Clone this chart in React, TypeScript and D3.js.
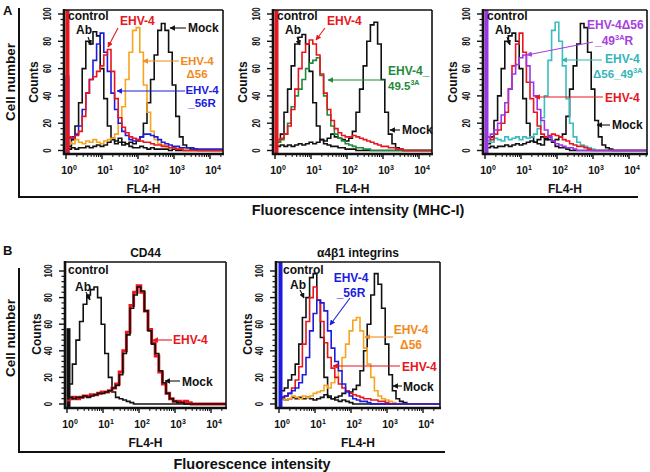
import React from "react";
import * as d3 from "d3";

// log10 bin centres (FL4-H decades)
const BINS = [
  0.0, 0.1, 0.2, 0.3, 0.4, 0.5, 0.6, 0.7, 0.8, 0.9,
  1.0, 1.1, 1.2, 1.3, 1.4, 1.5, 1.6, 1.7, 1.8, 1.9,
  2.0, 2.1, 2.2, 2.3, 2.4, 2.5, 2.6, 2.7, 2.8, 2.9,
  3.0, 3.1, 3.2, 3.3, 3.4, 3.5, 3.6, 3.7, 3.8, 3.9,
  4.0,
];
const X_TICK_EXP = [0, 1, 2, 3, 4];
const Y_TICKS = [0, 20, 40, 60, 80, 100];

// Panel A1 (MHC-I)
const A1_CTRL = [2,3,8,18,35,60,80,78,87,84, 60,38,18,9,5,6,4,5,3,2, 2,3,2,1,2,1,1,1,1,0, 1,0,0,0,0,0,0,0,0,0, 0];
const A1_MOCK = [1,1,2,1,2,2,3,2,3,4, 3,4,6,8,7,9,6,5,6,5, 7,10,20,35,52,70,88,93,88,72, 48,25,10,4,2,1,1,0,0,0, 0];
const A1_D56 = [4,6,5,8,6,5,7,6,8,6, 5,7,8,9,12,20,32,52,72,88, 90,72,48,28,14,8,5,4,3,2, 2,1,1,0,0,0,0,0,0,0, 0];
const A1_56R = [8,9,10,12,18,30,42,52,66,78, 86,72,58,42,30,20,14,11,8,7, 8,10,12,12,11,10,8,6,5,4, 3,3,2,2,2,2,1,1,1,1, 1];
const A1_EHV4 = [10,10,9,11,14,25,42,52,54,58, 62,70,74,58,38,24,17,13,10,9, 8,7,6,6,5,4,4,3,3,2, 2,1,1,0,0,0,0,0,0,0, 0];
const A1_FIRST = { ehv4: 120, r56: 55 };

// Panel A2
const A2_CTRL = [5,6,12,28,45,62,78,83,85,78, 58,35,18,8,5,4,3,3,2,2, 1,1,1,0,0,0,0,0,0,0, 0,0,0,0,0,0,0,0,0,0, 0];
const A2_MOCK = [3,3,4,3,4,3,4,5,4,5, 6,5,6,8,7,9,12,10,9,8, 7,9,14,28,45,62,80,92,94,78, 52,28,12,5,2,1,0,0,0,0, 0];
const A2_495 = [7,6,8,12,20,32,40,45,52,60, 64,66,68,55,40,26,18,12,9,7, 5,4,3,2,2,1,1,0,0,0, 0,0,0,0,0,0,0,0,0,0, 0];
const A2_EHV4 = [10,8,9,12,18,30,45,60,72,78, 81,78,70,56,42,30,22,16,13,11, 10,10,11,10,9,8,7,6,5,4, 3,3,2,2,1,1,0,0,0,0, 0];
const A2_FIRST = { ehv4: 120 };

// Panel A3
const A3_CTRL = [4,5,10,22,40,60,80,84,86,80, 60,38,20,10,6,5,4,8,10,6, 3,2,2,1,0,0,0,0,0,0, 0,0,0,0,0,0,0,0,0,0, 0];
const A3_MOCK = [2,2,3,2,3,3,4,3,4,5, 4,5,6,7,6,8,10,9,8,7, 8,10,12,25,45,62,78,93,90,72, 45,22,10,4,2,1,0,0,0,0, 0];
const A3_D56_49 = [5,7,6,9,8,7,10,8,9,10, 8,10,9,10,12,16,24,40,66,88, 94,80,62,38,20,10,6,4,3,2, 1,0,0,0,0,0,0,0,0,0, 0];
const A3_EHV4 = [8,10,8,12,15,20,28,45,62,78, 86,72,50,38,28,18,12,10,11,12, 11,10,8,7,5,4,3,3,2,1, 0,0,0,0,0,0,0,0,0,0, 0];
const A3_D56_49R = [12,10,12,15,20,26,35,45,56,63, 68,70,62,50,40,30,22,15,10,7, 5,4,3,2,2,1,0,0,0,0, 0,0,0,0,0,0,0,0,0,0, 0];
const A3_FIRST = { rev: 120 };

// Panel B1 (CD44)
const B1_CTRL = [8,15,30,48,62,75,82,86,88,80, 60,38,20,9,5,4,3,2,1,0, 0,0,0,0,0,0,0,0,0,0, 0,0,0,0,0,0,0,0,0,0, 0];
const B1_MOCK = [4,5,4,5,5,6,5,6,7,8, 8,9,10,12,14,22,38,52,72,82, 88,85,70,55,45,38,25,16,8,4, 2,1,1,0,0,0,0,0,0,0, 0];
const B1_EHV4 = [3,4,5,4,5,6,6,7,7,8, 9,9,10,12,15,24,40,54,74,84, 89,84,70,56,46,36,24,15,8,4, 2,2,1,2,1,0,0,0,0,0, 0];
const B1_FIRST = { ctrl: 57 };

// Panel B2 (a4b1 integrins)
const B2_CTRL = [5,10,12,18,22,30,45,65,80,95, 98,78,50,20,6,4,3,2,3,2, 1,0,0,0,0,0,0,0,0,0, 0,0,0,0,0,0,0,0,0,0, 0];
const B2_MOCK = [3,4,3,4,5,4,5,4,5,4, 3,4,5,7,5,4,5,6,8,10, 9,11,14,25,40,60,82,98,90,72, 45,22,10,4,2,1,0,0,0,0, 0];
const B2_D56 = [5,4,3,4,6,5,4,6,5,6, 8,9,10,14,12,16,20,25,35,45, 55,63,65,55,42,30,20,10,6,4, 3,2,1,0,0,0,0,0,0,0, 0];
const B2_EHV4 = [5,5,6,8,12,18,28,45,62,80, 88,78,62,46,35,27,20,15,12,10, 8,7,6,5,4,4,3,3,2,2, 1,0,0,0,0,0,0,0,0,0, 0];
const B2_56R = [4,5,6,8,10,12,16,22,35,55, 68,78,76,70,55,42,32,25,15,9, 6,4,3,2,2,1,0,0,0,0, 0,0,0,0,0,0,0,0,0,0, 0];
const B2_FIRST = { r56: 120 };

const FONT = "'Liberation Sans', Arial, Helvetica, sans-serif";
const C = {
  black: "#111111",
  red: "#e8161d",
  blue: "#1c1ce0",
  orange: "#f7a51e",
  orangeText: "#f28a1e",
  green: "#1f8a3a",
  purple: "#9b35e8",
  purpleText: "#a83fe0",
  cyan: "#3dbcbf",
  cyanText: "#35b6b8",
};

type Series = { v: number[]; c: string; w?: number; fb?: number };
type Note = {
  lines: string[];
  c: string;
  dx: number;
  dy: number;
  anchor?: "start" | "middle" | "end";
  lh?: number;
  size?: number;
  arrow?: [number, number, number, number];
};
type PanelSpec = {
  id: string;
  left: number;
  top: number;
  w: number;
  h: number;
  zero: number;
  hundred: number;
  x0: number;
  x4: number;
  countsDx: number;
  title?: string;
  series: Series[];
  notes: Note[];
};

const PANELS: PanelSpec[] = [
  {
    id: "a1", left: 64, top: 10, w: 159, h: 144, zero: 140.5, hundred: 4, x0: 2, x4: 146, countsDx: 30,
    series: [
      { v: A1_CTRL, c: C.black },
      { v: A1_MOCK, c: C.black },
      { v: A1_D56, c: C.orange },
      { v: A1_56R, c: C.blue, fb: A1_FIRST.r56 },
      { v: A1_EHV4, c: C.red, fb: A1_FIRST.ehv4 },
    ],
    notes: [
      { lines: ["control"], c: C.black, dx: 4, dy: 10 },
      { lines: ["Ab"], c: C.black, dx: 12, dy: 24, arrow: [24, 27, 27, 35] },
      { lines: ["EHV-4"], c: C.red, dx: 56, dy: 15, arrow: [54, 18, 44, 37] },
      { lines: ["Mock"], c: C.black, dx: 124, dy: 22, arrow: [122, 18, 106, 18] },
      { lines: ["EHV-4", "Δ56"], c: C.orangeText, dx: 133, dy: 55, anchor: "middle", lh: 13, size: 11.5, arrow: [115, 51, 79, 51] },
      { lines: ["EHV-4", "_56R"], c: C.blue, dx: 138, dy: 84, anchor: "middle", lh: 13, size: 11.5, arrow: [121, 81, 53, 81] },
    ],
  },
  {
    id: "a2", left: 273, top: 10, w: 159, h: 144, zero: 140.5, hundred: 4, x0: 2, x4: 146, countsDx: 30,
    series: [
      { v: A2_CTRL, c: C.black },
      { v: A2_MOCK, c: C.black },
      { v: A2_495, c: C.green },
      { v: A2_EHV4, c: C.red, fb: A2_FIRST.ehv4 },
    ],
    notes: [
      { lines: ["control"], c: C.black, dx: 4, dy: 10 },
      { lines: ["Ab"], c: C.black, dx: 12, dy: 24, arrow: [24, 27, 27, 35] },
      { lines: ["EHV-4"], c: C.red, dx: 54, dy: 15, arrow: [52, 18, 43, 30] },
      { lines: ["EHV-4_"], c: C.green, dx: 115, dy: 65 },
      { lines: ["49.5^{3A}"], c: C.green, dx: 115, dy: 80, size: 11.5 },
      { lines: [], c: C.green, dx: 0, dy: 0, arrow: [113, 70, 55, 70] },
      { lines: ["Mock"], c: C.black, dx: 129, dy: 124, arrow: [127, 120, 117, 120] },
    ],
  },
  {
    id: "a3", left: 483, top: 10, w: 164, h: 144, zero: 140.5, hundred: 4, x0: 2, x4: 146, countsDx: 30,
    series: [
      { v: A3_CTRL, c: C.black },
      { v: A3_MOCK, c: C.black },
      { v: A3_D56_49, c: C.cyan },
      { v: A3_EHV4, c: C.red },
      { v: A3_D56_49R, c: C.purple, fb: A3_FIRST.rev },
    ],
    notes: [
      { lines: ["control"], c: C.black, dx: 4, dy: 10 },
      { lines: ["Ab"], c: C.black, dx: 12, dy: 24, arrow: [24, 27, 27, 35] },
      { lines: ["EHV-4Δ56"], c: C.purpleText, dx: 104, dy: 19 },
      { lines: ["_49^{3A}R"], c: C.purpleText, dx: 112, dy: 35, arrow: [110, 32, 44, 45] },
      { lines: ["EHV-4"], c: C.cyanText, dx: 122, dy: 53, arrow: [119, 50, 79, 50] },
      { lines: ["Δ56_49^{3A}"], c: C.cyanText, dx: 110, dy: 68, size: 11.5 },
      { lines: ["EHV-4"], c: C.red, dx: 122, dy: 92, arrow: [120, 87, 52, 87] },
      { lines: ["Mock"], c: C.black, dx: 129, dy: 119, arrow: [127, 115, 114, 115] },
    ],
  },
  {
    id: "b1", left: 65, top: 262, w: 161, h: 146, zero: 142, hundred: 9, x0: 2, x4: 146, countsDx: 28, title: "CD44",
    series: [
      { v: B1_CTRL, c: C.black, fb: B1_FIRST.ctrl },
      { v: B1_EHV4, c: C.red, w: 3 },
      { v: B1_MOCK, c: C.black },
    ],
    notes: [
      { lines: ["control"], c: C.black, dx: 3, dy: 12 },
      { lines: ["Ab"], c: C.black, dx: 10, dy: 29, arrow: [21, 30, 25, 38] },
      { lines: ["EHV-4"], c: C.red, dx: 108, dy: 82, arrow: [107, 78, 88, 78] },
      { lines: ["Mock"], c: C.black, dx: 117, dy: 124, arrow: [115, 119, 100, 119] },
    ],
  },
  {
    id: "b2", left: 276, top: 262, w: 164, h: 146, zero: 142, hundred: 9, x0: 3, x4: 147, countsDx: 28, title: "α4β1 integrins",
    series: [
      { v: B2_CTRL, c: C.black },
      { v: B2_MOCK, c: C.black },
      { v: B2_D56, c: C.orange },
      { v: B2_EHV4, c: C.red },
      { v: B2_56R, c: C.blue, fb: B2_FIRST.r56 },
    ],
    notes: [
      { lines: ["control"], c: C.black, dx: 7, dy: 12 },
      { lines: ["Ab"], c: C.black, dx: 14, dy: 27, arrow: [24, 28, 28, 36] },
      { lines: ["EHV-4", "_56R"], c: C.blue, dx: 75, dy: 20, anchor: "middle", lh: 15, arrow: [74, 36, 54, 63] },
      { lines: ["EHV-4", "Δ56"], c: C.orangeText, dx: 135, dy: 72, anchor: "middle", lh: 15, arrow: [117, 75, 89, 75] },
      { lines: ["EHV-4"], c: C.red, dx: 126, dy: 109, arrow: [124, 104, 57, 104] },
      { lines: ["Mock"], c: C.black, dx: 127, dy: 129, arrow: [126, 124, 117, 124] },
    ],
  },
];

const MARKER_COLORS: Record<string, string> = {
  k: C.black, r: C.red, b: C.blue, o: C.orangeText, g: C.green, p: C.purpleText, c: C.cyanText,
};
const markerFor = (color: string) => {
  const key = Object.keys(MARKER_COLORS).find((k) => MARKER_COLORS[k] === color) || "k";
  return `url(#ah-${key})`;
};

function RichText({ x, y, s, anchor, color, size }: { x: number; y: number; s: string; anchor: string; color: string; size: number }) {
  const parts = s.split(/\^\{([^}]*)\}/);
  const segs = parts.map((t, i) => ({ t, sup: i % 2 === 1 })).filter((p) => p.t.length > 0);
  let prevSup = false;
  const supShift = size * 0.4;
  return (
    <text x={x} y={y} textAnchor={anchor as any} fill={color} fontSize={size} fontWeight="bold" fontFamily={FONT}>
      {segs.map((sg, i) => {
        let dy = 0;
        if (sg.sup && !prevSup) dy = -supShift;
        if (!sg.sup && prevSup) dy = supShift;
        prevSup = sg.sup;
        return (
          <tspan key={i} dy={dy} fontSize={sg.sup ? size * 0.62 : size}>
            {sg.t}
          </tspan>
        );
      })}
    </text>
  );
}

function Panel({ p }: { p: PanelSpec }) {
  const x = d3.scaleLog().domain([1, 1e4]).range([p.left + p.x0, p.left + p.x4]);
  const y = d3.scaleLinear().domain([0, 100]).range([p.top + p.zero, p.top + p.hundred]);
  const right = p.left + p.w;
  const bottom = p.top + p.h;
  const edgeLog = Math.log10(x.invert(right + 2));
  const line = d3
    .line<[number, number]>()
    .x((d) => x(Math.pow(10, d[0])))
    .y((d) => y(d[1]))
    .curve(d3.curveStep);

  const majorY = Y_TICKS;
  const minorY = d3.range(0, 104, 4).filter((v) => v % 20 !== 0 && y(v) >= p.top);
  const majorX = X_TICK_EXP.map((e) => Math.pow(10, e));
  const minorX: number[] = [];
  for (let e = 0; e <= 4; e++) for (let m = 2; m <= 9; m++) {
    const v = m * Math.pow(10, e);
    if (x(v) <= right) minorX.push(v);
  }
  const clipId = `clip-${p.id}`;
  const fbX = x(1) + 1.5;

  return (
    <g>
      <defs>
        <clipPath id={clipId}>
          <rect x={p.left} y={p.top} width={p.w} height={p.h} />
        </clipPath>
      </defs>
      <g clipPath={`url(#${clipId})`}>
        {p.series.map((s, i) => {
          const pts: [number, number][] = s.v.map((v, j) => [BINS[j], v]);
          pts.push([edgeLog, s.v[s.v.length - 1]]);
          return (
            <g key={i}>
              <path d={line(pts) || ""} fill="none" stroke={s.c} strokeWidth={s.w ?? 1.6} strokeLinejoin="miter" />
              {s.fb !== undefined && (
                <line x1={fbX} x2={fbX} y1={bottom} y2={y(Math.min(s.fb, 110))} stroke={s.c} strokeWidth={4} />
              )}
            </g>
          );
        })}
      </g>
      {/* frame */}
      <line x1={p.left} x2={right} y1={p.top} y2={p.top} stroke={C.black} strokeWidth={1.6} />
      <line x1={right} x2={right} y1={p.top} y2={bottom} stroke={C.black} strokeWidth={1.6} />
      <line x1={p.left} x2={p.left} y1={p.top - 1} y2={bottom + 1} stroke={C.black} strokeWidth={2.6} />
      <line x1={p.left - 1} x2={right + 1} y1={bottom} y2={bottom} stroke={C.black} strokeWidth={2.6} />
      {/* y ticks */}
      {majorY.map((v) => (
        <line key={`ym${v}`} x1={p.left - 6} x2={p.left} y1={y(v)} y2={y(v)} stroke={C.black} strokeWidth={1.4} />
      ))}
      {minorY.map((v) => (
        <line key={`yn${v}`} x1={p.left - 3.5} x2={p.left} y1={y(v)} y2={y(v)} stroke={C.black} strokeWidth={1.2} />
      ))}
      {majorY.map((v) => (
        <text
          key={`yl${v}`}
          transform={`translate(${p.left - 17},${y(v)}) rotate(-90) scale(0.68,1)`}
          textAnchor="middle"
          dominantBaseline="central"
          fontSize={11.5}
          fontWeight="bold"
          fontFamily={FONT}
          fill={C.black}
        >
          {v}
        </text>
      ))}
      <text
        transform={`translate(${p.left - p.countsDx},${p.top + 72}) rotate(-90)`}
        textAnchor="middle"
        dominantBaseline="central"
        fontSize={12}
        fontWeight="bold"
        fontFamily={FONT}
        fill={C.black}
      >
        Counts
      </text>
      {/* x ticks */}
      {majorX.map((v) => (
        <line key={`xm${v}`} x1={x(v)} x2={x(v)} y1={bottom} y2={bottom + 5} stroke={C.black} strokeWidth={1.4} />
      ))}
      {minorX.map((v) => (
        <line key={`xn${v}`} x1={x(v)} x2={x(v)} y1={bottom} y2={bottom + 3} stroke={C.black} strokeWidth={1} />
      ))}
      {X_TICK_EXP.map((e) => (
        <text
          key={`xl${e}`}
          x={x(Math.pow(10, e)) + 3}
          y={bottom + 20}
          textAnchor="middle"
          fontSize={10.5}
          fontWeight="bold"
          fontFamily={FONT}
          fill={C.black}
        >
          10
          <tspan dy={-4.5} fontSize={7}>
            {e}
          </tspan>
        </text>
      ))}
      <text x={p.left + p.w / 2} y={bottom + 39} textAnchor="middle" fontSize={12} fontWeight="bold" fontFamily={FONT} fill={C.black}>
        FL4-H
      </text>
      {p.title && (
        <text x={p.left + p.w / 2} y={p.top - 5} textAnchor="middle" fontSize={12} fontWeight="bold" fontFamily={FONT} fill={C.black}>
          {p.title}
        </text>
      )}
      {/* annotations */}
      {p.notes.map((n, i) => (
        <g key={`n${i}`}>
          {n.arrow && (
            <line
              x1={p.left + n.arrow[0]}
              y1={p.top + n.arrow[1]}
              x2={p.left + n.arrow[2]}
              y2={p.top + n.arrow[3]}
              stroke={n.c}
              strokeWidth={1.1}
              markerEnd={markerFor(n.c)}
            />
          )}
          {n.lines.map((s, j) => (
            <RichText
              key={j}
              x={p.left + n.dx}
              y={p.top + n.dy + j * (n.lh ?? 12)}
              s={s}
              anchor={n.anchor ?? "start"}
              color={n.c}
              size={n.size ?? 12}
            />
          ))}
        </g>
      ))}
    </g>
  );
}

export default function App() {
  return (
    <svg
      width={650}
      height={472}
      viewBox="0 0 650 472"
      style={{ position: "absolute", left: 0, top: 0, background: "#fff" }}
    >
      <defs>
        {Object.keys(MARKER_COLORS).map((k) => (
          <marker
            key={k}
            id={`ah-${k}`}
            viewBox="0 0 10 10"
            refX={9}
            refY={5}
            markerWidth={5}
            markerHeight={5}
            orient="auto"
          >
            <path d="M0,0 L10,5 L0,10 z" fill={MARKER_COLORS[k]} />
          </marker>
        ))}
      </defs>
      <rect x={0} y={0} width={650} height={472} fill="#fff" />
      {/* section A */}
      <text x={3} y={15} fontSize={13} fontWeight="bold" fontFamily={FONT} fill={C.black}>A</text>
      <line x1={19} x2={19} y1={8} y2={197} stroke={C.black} strokeWidth={2} />
      <line x1={18} x2={638} y1={197} y2={197} stroke={C.black} strokeWidth={2} />
      <text transform="translate(10,82) rotate(-90)" textAnchor="middle" dominantBaseline="central" fontSize={13.5} fontWeight="bold" fontFamily={FONT} fill={C.black}>
        Cell number
      </text>
      <text x={358} y={215} textAnchor="middle" fontSize={14.5} fontWeight="bold" fontFamily={FONT} fill={C.black}>
        Fluorescence intensity (MHC-I)
      </text>
      {/* section B */}
      <text x={3} y={255} fontSize={13} fontWeight="bold" fontFamily={FONT} fill={C.black}>B</text>
      <line x1={19} x2={19} y1={268} y2={452} stroke={C.black} strokeWidth={2} />
      <line x1={18} x2={445} y1={452} y2={452} stroke={C.black} strokeWidth={2} />
      <text transform="translate(10,338) rotate(-90)" textAnchor="middle" dominantBaseline="central" fontSize={13.5} fontWeight="bold" fontFamily={FONT} fill={C.black}>
        Cell number
      </text>
      <text x={252} y={469} textAnchor="middle" fontSize={14.5} fontWeight="bold" fontFamily={FONT} fill={C.black}>
        Fluorescence intensity
      </text>
      {PANELS.map((p) => (
        <Panel key={p.id} p={p} />
      ))}
    </svg>
  );
}
